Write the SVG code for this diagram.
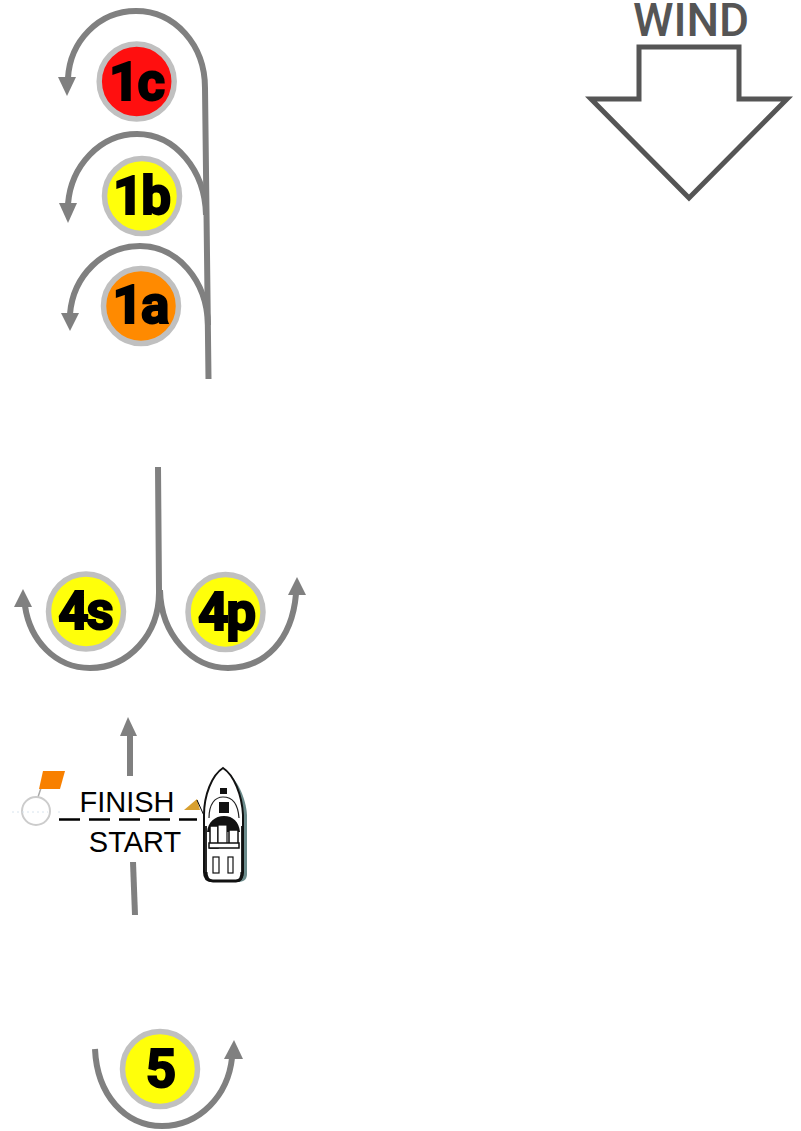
<svg xmlns="http://www.w3.org/2000/svg" width="801" height="1131" viewBox="0 0 801 1131">
<style>
.c{fill:none;stroke:#808080;stroke-width:6}
.n{stroke:#c0c0c0;stroke-width:5.500}
.l{font-family:Roboto,"Liberation Sans",sans-serif;font-weight:700;font-size:53px;letter-spacing:-2px;text-anchor:middle;fill:#000;stroke:#000;stroke-width:2}
.t{font-family:"Liberation Sans",Arial,sans-serif;font-size:29px;text-anchor:middle;fill:#000}
.h{fill:#808080}
</style>
<rect width="801" height="1131" fill="#fff"/>
<g id="connectors">
<path class="c" d="M208.500 379L205 88C205 45 175 11 136 11C98 11 70 42 68 78"/>
<path class="h" d="M58 77H76L67 96Z"/>
<path class="c" d="M206 215C205 170 175 134 137 134C100 134 71 166 68 204"/>
<path class="h" d="M59 203H77L68 223Z"/>
<path class="c" d="M208 325C207 280 177 246 140 246C103 246 73 276 70 314"/>
<path class="h" d="M61 313H79L70 331Z"/>
<path class="c" d="M158 467L159 590C160 635 128 668 90 668C55 668 30 640 25 606"/>
<path class="h" d="M14 607H32L23 589Z"/>
<path class="c" d="M160 590C161 635 192 668 228 668C265 668 292 640 296 594"/>
<path class="h" d="M288 595H306L297 577Z"/>
<path class="c" d="M130 776V735"/>
<path class="h" d="M120 736H137L128 717Z"/>
<path class="c" d="M133 862L135 915"/>
<path class="c" d="M95 1049C97 1095 125 1126 162 1126C200 1126 228 1095 232 1058"/>
<path class="h" d="M224 1059H243L234 1040Z"/>
<path d="M59 819.500H197" fill="none" stroke="#000" stroke-width="2.500" stroke-dasharray="21 9"/>
</g>
<g id="node-1c"><circle class="n" cx="136.700" cy="81.500" r="37.500" fill="#ff0f0f"/><text class="l" x="136" y="100">1c</text></g>
<g id="node-1b"><circle class="n" cx="142" cy="196" r="37.500" fill="#ffff0a"/><text class="l" x="141" y="214">1b</text></g>
<g id="node-1a"><circle class="n" cx="141" cy="306" r="37.500" fill="#ff8a00"/><text class="l" x="140" y="323">1a</text></g>
<g id="node-4s"><circle class="n" cx="86" cy="611.500" r="37.500" fill="#ffff0a"/><text class="l" x="85" y="629">4s</text></g>
<g id="node-4p"><circle class="n" cx="225.500" cy="612" r="37.500" fill="#ffff0a"/><text class="l" x="226" y="630">4p</text></g>
<g id="node-5"><circle class="n" cx="160" cy="1069" r="37.500" fill="#ffff0a"/><text class="l" x="160" y="1087">5</text></g>
<g id="wind">
<text x="691" y="36" font-family="Roboto,sans-serif" font-weight="500" font-size="46px" text-anchor="middle" fill="#555">WIND</text>
<path d="M639 47H739V99H787L689 198L591 99H639Z" fill="#fff" stroke="#555" stroke-width="5"/>
</g>
<g id="buoy">
<line x1="38" y1="797" x2="41" y2="788" stroke="#aaa" stroke-width="1.500"/>
<path d="M43 771H65L60 789H39Z" fill="#f88000"/>
<circle cx="36" cy="811" r="14" fill="#fff" stroke="#ccc" stroke-width="2"/>
<path d="M12 812H48M58 812H60" stroke="#d8e4ee" stroke-width="1" stroke-dasharray="2 3" fill="none"/>
</g>
<g id="labels">
<text class="t" x="127" y="812">FINISH</text>
<text class="t" x="135" y="852">START</text>
</g>
<g id="boat">
<path d="M184 810L197 799L200 810Z" fill="#d8a030"/>
<path d="M197 800L206 820" stroke="#000" stroke-width="1" fill="none"/>
<path d="M225 771C237 778 246 798 247 815V874C247 880 243 882 238 882H212Z" fill="#6a8a8a"/>
<path d="M223 768C234 775 242 795 243 815V872C243 878 240 881 236 881H212C207 881 204 878 204 872V815C204 795 212 775 223 768Z" fill="#fff" stroke="#111" stroke-width="2"/>
<path d="M209 818C209 804 215 797 223 797C232 797 238 804 239 818" fill="none" stroke="#222" stroke-width="1.200"/>
<rect x="220" y="788" width="7" height="6" fill="#111"/>
<rect x="219" y="802" width="10" height="11" fill="#111"/>
<path d="M207 832C208 822 215 816 224 816C233 816 239 822 240 832Z" fill="#111"/>
<rect x="210" y="826" width="8" height="22" fill="#fff" stroke="#111" stroke-width="1.500"/>
<rect x="218" y="825" width="9" height="20" fill="#fff" stroke="#111" stroke-width="1.200"/>
<rect x="229" y="830" width="9" height="15" fill="#fff" stroke="#111" stroke-width="1.500"/>
<rect x="209" y="843" width="30" height="5" fill="#fff" stroke="#111" stroke-width="1.500"/>
<rect x="213" y="857" width="6" height="16" fill="#fff" stroke="#111" stroke-width="1.200"/>
<rect x="228" y="857" width="5" height="16" fill="#fff" stroke="#111" stroke-width="1.200"/>
<path d="M206 872C206 879 209 881 213 881H236C240 881 242 878 242 872" fill="none" stroke="#111" stroke-width="3"/>
<path d="M206 826V875M242 826V875" fill="none" stroke="#111" stroke-width="1.800"/>
</g>
</svg>
